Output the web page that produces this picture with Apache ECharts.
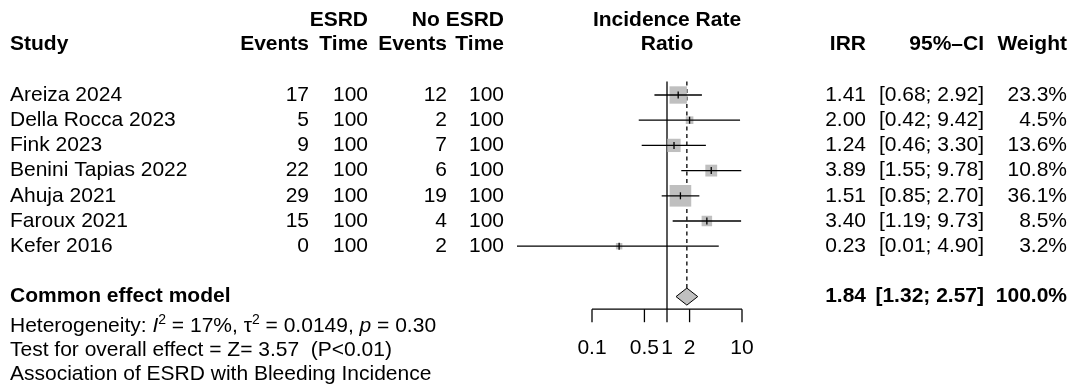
<!DOCTYPE html>
<html><head><meta charset="utf-8">
<script src="https://cdn.jsdelivr.net/npm/echarts@6/dist/echarts.min.js"></script>
<style>html,body{margin:0;padding:0;background:#fff}#c{width:1080px;height:392px}</style>
</head><body><div id="c"></div>
<script>
// ---- data ----
const studies = ['Areiza 2024', 'Della Rocca 2023', 'Fink 2023', 'Benini Tapias 2022', 'Ahuja 2021', 'Faroux 2021', 'Kefer 2016'];
const esrdEvents = [17, 5, 9, 22, 29, 15, 0];
const esrdTime = [100, 100, 100, 100, 100, 100, 100];
const noEsrdEvents = [12, 2, 7, 6, 19, 4, 2];
const noEsrdTime = [100, 100, 100, 100, 100, 100, 100];
const irr = [1.41, 2.00, 1.24, 3.89, 1.51, 3.40, 0.23];
const ciLow = [0.68, 0.42, 0.46, 1.55, 0.85, 1.19, 0.01];
const ciHigh = [2.92, 9.42, 3.30, 9.78, 2.70, 9.73, 4.90];
const weights = [23.3, 4.5, 13.6, 10.8, 36.1, 8.5, 3.2];
const pooledIRR = 1.84;
const pooledLow = 1.32;
const pooledHigh = 2.57;
const pooledWeight = 100.0;
const axisTicks = [0.1, 0.5, 1, 2, 10];
const tickLabels = ['0.1', '0.5', '1', '2', '10'];

// ---- layout / style ----
const FONT = '"Liberation Sans", Arial, Helvetica, sans-serif';
const FS = 21;
const SUMMARY_ROW = 8;
const AXIS_ROW = 8.5;
const TOP_ROW = -0.5;
const COL = { name: 10, ev1: 309, t1: 368, ev2: 447, t2: 504, irr: 866, ci: 984, w: 1067 };

function txt(text, x, y, align, bold) {
  return { type: 'text', style: { text: String(text), x: x, y: y, align: align, verticalAlign: 'middle',
    fontSize: FS, fontFamily: FONT, fontWeight: bold ? 'bold' : 'normal', fill: '#000' } };
}
const ciText = (lo, hi) => '[' + lo.toFixed(2) + '; ' + hi.toFixed(2) + ']';

const chart = echarts.init(document.getElementById('c'), null, { renderer: 'canvas' });

const studyData = studies.map((s, i) => [irr[i], i, ciLow[i], ciHigh[i], weights[i]]);

const option = {
  animation: false,
  backgroundColor: '#fff',
  grid: { left: 517, width: 225, top: 19.4, height: 352.8 },
  xAxis: { type: 'log', logBase: 10, min: 0.01, max: 10, show: false },
  yAxis: { type: 'value', min: -3, max: 11, inverse: true, show: false },
  series: [
    { // reference lines
      type: 'custom', data: [[1, TOP_ROW]], z: 1,
      renderItem: function (params, api) {
        const top = api.coord([1, TOP_ROW]);
        const bot = api.coord([1, AXIS_ROW]);
        const pTop = api.coord([pooledIRR, TOP_ROW]);
        const pBot = api.coord([pooledIRR, SUMMARY_ROW]);
        return { type: 'group', children: [
          { type: 'line', shape: { x1: top[0], y1: top[1] - 1, x2: bot[0], y2: bot[1] }, style: { stroke: '#000', lineWidth: 1.3 } },
          { type: 'line', shape: { x1: pTop[0], y1: pTop[1] - 1, x2: pBot[0], y2: pBot[1] - 8.5 }, style: { stroke: '#000', lineWidth: 1.3, lineDash: [4, 3.5] } }
        ] };
      }
    },
    { // x axis
      type: 'custom', data: axisTicks.map((t, i) => [t, AXIS_ROW, i]), z: 2,
      renderItem: function (params, api) {
        const p = api.coord([api.value(0), AXIS_ROW]);
        const children = [
          { type: 'line', shape: { x1: p[0], y1: p[1], x2: p[0], y2: p[1] + 13 }, style: { stroke: '#000', lineWidth: 1.3 } },
          txt(tickLabels[api.value(2)], p[0], p[1] + 39, 'center', false)
        ];
        if (params.dataIndex === 0) {
          const a = api.coord([axisTicks[0], AXIS_ROW]);
          const b = api.coord([axisTicks[axisTicks.length - 1], AXIS_ROW]);
          children.push({ type: 'line', shape: { x1: a[0], y1: a[1], x2: b[0], y2: b[1] }, style: { stroke: '#000', lineWidth: 1.3 } });
        }
        return { type: 'group', children: children };
      }
    },
    { // study squares & CIs
      type: 'custom', data: studyData, z: 3,
      renderItem: function (params, api) {
        const c = api.coord([api.value(0), api.value(1)]);
        const lo = api.coord([api.value(2), api.value(1)]);
        const hi = api.coord([api.value(3), api.value(1)]);
        const s = 3.6 * Math.sqrt(api.value(4));
        return { type: 'group', children: [
          { type: 'rect', shape: { x: c[0] - s / 2, y: c[1] - s / 2, width: s, height: s }, style: { fill: '#bfbfbf' } },
          { type: 'line', shape: { x1: lo[0], y1: lo[1], x2: hi[0], y2: hi[1] }, style: { stroke: '#000', lineWidth: 1.3 } },
          { type: 'line', shape: { x1: c[0], y1: c[1] - 3.5, x2: c[0], y2: c[1] + 3.5 }, style: { stroke: '#000', lineWidth: 1.3 } }
        ] };
      }
    },
    { // pooled diamond
      type: 'custom', data: [[pooledIRR, SUMMARY_ROW, pooledLow, pooledHigh]], z: 4,
      renderItem: function (params, api) {
        const c = api.coord([api.value(0), api.value(1)]);
        const lo = api.coord([api.value(2), api.value(1)]);
        const hi = api.coord([api.value(3), api.value(1)]);
        const h = 8.5;
        return { type: 'polygon', shape: { points: [[lo[0], c[1]], [c[0], c[1] - h], [hi[0], c[1]], [c[0], c[1] + h]] },
          style: { fill: '#c0c0c0', stroke: '#000', lineWidth: 1 } };
      }
    },
    { // study table text
      type: 'custom', data: studies.map((s, i) => [1, i]), z: 5,
      renderItem: function (params, api) {
        const i = params.dataIndex;
        const y = api.coord([1, api.value(1)])[1];
        return { type: 'group', children: [
          txt(studies[i], COL.name, y, 'left'),
          txt(esrdEvents[i], COL.ev1, y, 'right'),
          txt(esrdTime[i], COL.t1, y, 'right'),
          txt(noEsrdEvents[i], COL.ev2, y, 'right'),
          txt(noEsrdTime[i], COL.t2, y, 'right'),
          txt(irr[i].toFixed(2), COL.irr, y, 'right'),
          txt(ciText(ciLow[i], ciHigh[i]), COL.ci, y, 'right'),
          txt(weights[i].toFixed(1) + '%', COL.w, y, 'right')
        ] };
      }
    },
    { // summary text
      type: 'custom', data: [[1, SUMMARY_ROW]], z: 5,
      renderItem: function (params, api) {
        const y = api.coord([1, SUMMARY_ROW])[1];
        return { type: 'group', children: [
          txt('Common effect model', COL.name, y, 'left', true),
          txt(pooledIRR.toFixed(2), COL.irr, y, 'right', true),
          txt(ciText(pooledLow, pooledHigh), COL.ci, y, 'right', true),
          txt(pooledWeight.toFixed(1) + '%', COL.w, y, 'right', true)
        ] };
      }
    }
  ]
};

function gtxt(text, x, y, align, bold) {
  return { type: 'text', x: x, y: y, silent: true, style: { text: text, align: align, verticalAlign: 'middle',
    fontSize: FS, fontFamily: FONT, fontWeight: bold ? 'bold' : 'normal', fill: '#000' } };
}
option.graphic = [
  gtxt('ESRD', COL.t1, 20, 'right', true),
  gtxt('No ESRD', COL.t2, 20, 'right', true),
  gtxt('Incidence Rate', 667, 20, 'center', true),
  gtxt('Study', COL.name, 44, 'left', true),
  gtxt('Events', COL.ev1, 44, 'right', true),
  gtxt('Time', COL.t1, 44, 'right', true),
  gtxt('Events', COL.ev2, 44, 'right', true),
  gtxt('Time', COL.t2, 44, 'right', true),
  gtxt('Ratio', 667, 44, 'center', true),
  gtxt('IRR', COL.irr, 44, 'right', true),
  gtxt('95%\u2013CI', COL.ci, 44, 'right', true),
  gtxt('Weight', COL.w, 44, 'right', true),
  { type: 'text', x: COL.name, y: 326, silent: true, style: {
      text: 'Heterogeneity: {i|I}{s|2} = 17%, \u03c4{s|2} = 0.0149, {i|p} = 0.30',
      verticalAlign: 'middle', align: 'left', fontSize: FS, fontFamily: FONT, fill: '#000',
      rich: {
        i: { fontSize: FS, fontFamily: FONT, fontStyle: 'italic', fill: '#000' },
        s: { fontSize: 14, fontFamily: FONT, fill: '#000', verticalAlign: 'top', padding: [0, 0, 12, 0] }
      } } },
  gtxt('Test for overall effect = Z= 3.57  (P<0.01)', COL.name, 350, 'left'),
  gtxt('Association of ESRD with Bleeding Incidence', COL.name, 374, 'left')
];

chart.setOption(option);
</script>
</body></html>
